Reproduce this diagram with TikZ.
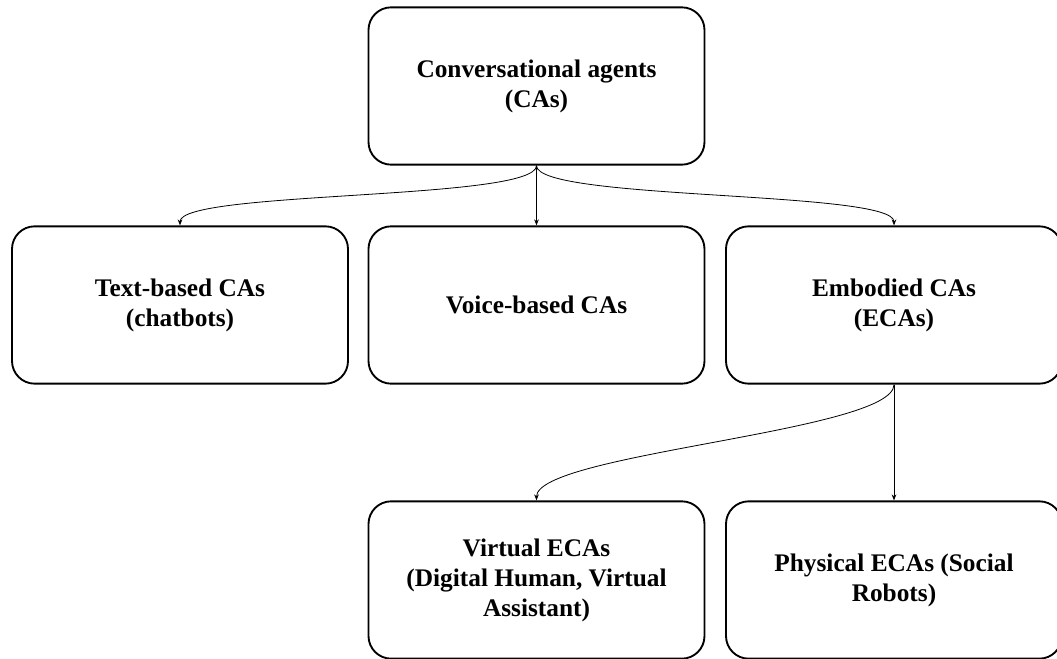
\documentclass[tikz,border=0pt]{standalone}
\usepackage{fontspec}
\setmainfont{Liberation Serif}
\usepackage{tikz}
\usetikzlibrary{arrows.meta}

\begin{document}
\begin{tikzpicture}[x=0.75pt, y=-0.75pt,
        box/.style={draw, line width=1.4pt, rounded corners=17pt,
                    minimum width=252pt, minimum height=118pt, inner sep=0pt,
                    align=center, font=\bfseries\fontsize{19}{22.5}\selectfont},
        link/.style={-{Stealth[length=4.5pt, width=3.5pt]}, line width=0.6pt}]
        \useasboundingbox (0,0) rectangle (1057,659);
        % Nodes
        \node[box] (CA) at (536.5,86) {Conversational agents\\(CAs)};
        \node[box] (TB) at (180,305) {Text-based CAs\\(chatbots)};
        \node[box] (VB) at (536.5,305) {Voice-based CAs};
        \node[box] (EC) at (894,305) {Embodied CAs\\(ECAs)};
        \node[box] (VE) at (536.5,580) {Virtual ECAs\\(Digital Human, Virtual\\Assistant)};
        \node[box] (PE) at (894,580) {Physical ECAs (Social\\Robots)};
        % Edges
        \draw[link] (CA.south) .. controls +(0,35) and +(0,-35) .. (TB.north);
        \draw[link] (CA.south) -- (VB.north);
        \draw[link] (CA.south) .. controls +(0,35) and +(0,-35) .. (EC.north);
        \draw[link] (EC.south) .. controls +(0,47) and +(0,-47) .. (VE.north);
        \draw[link] (EC.south) -- (PE.north);
    \end{tikzpicture}
\end{document}
